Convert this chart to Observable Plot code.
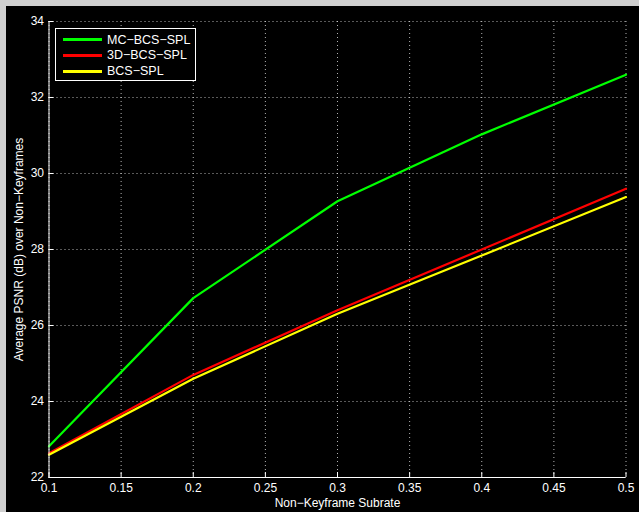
<!DOCTYPE html>
<html><head><meta charset="utf-8">
<script src="https://cdn.jsdelivr.net/npm/d3@7"></script>
<script src="https://cdn.jsdelivr.net/npm/@observablehq/plot@0.6"></script>
<style>
html,body{margin:0;padding:0;background:#d0d0d0;width:639px;height:512px;overflow:hidden;}
#wrap{position:absolute;left:6px;top:6px;width:633px;height:506px;background:#000;}
#legend{position:absolute;left:49px;top:22px;width:141px;height:53px;box-sizing:border-box;border:1px solid #fff;background:#000;font:12.5px "Liberation Sans",Arial,sans-serif;color:#fff;}
.row{position:absolute;left:0;height:0;}
.sw{position:absolute;left:7px;width:39px;height:3px;margin-top:-1.5px;}
.lb{position:absolute;left:51px;top:-8px;white-space:nowrap;line-height:16px;}
</style>
</head><body>
<div id="wrap"></div>
<script>
// ---- data ----
const subrate = [0.1, 0.2, 0.3, 0.4, 0.5];
const mcBcsSpl = [22.82, 26.72, 29.27, 31.03, 32.6];
const bcs3dSpl = [22.64, 24.7, 26.4, 28.0, 29.6];
const bcsSpl = [22.6, 24.6, 26.31, 27.84, 29.38];
const seriesNames = ["MC\u2212BCS\u2212SPL", "3D\u2212BCS\u2212SPL", "BCS\u2212SPL"];
const seriesColors = ["#00ff00", "#ff0000", "#ffff00"];
const xTicks = [0.1, 0.15, 0.2, 0.25, 0.3, 0.35, 0.4, 0.45, 0.5];
const xTickLabels = ["0.1", "0.15", "0.2", "0.25", "0.3", "0.35", "0.4", "0.45", "0.5"];
const yTicks = [22, 24, 26, 28, 30, 32, 34];
const yTickLabels = ["22", "24", "26", "28", "30", "32", "34"];
const xLabel = "Non\u2212Keyframe Subrate";
const yLabel = "Average PSNR (dB) over Non\u2212Keyframes";

const allSeries = [mcBcsSpl, bcs3dSpl, bcsSpl];
const table = [];
allSeries.forEach((vals, i) => vals.forEach((v, j) => table.push({series: seriesNames[i], x: subrate[j], y: v})));

const W = 633, H = 506, mL = 42.5, mR = 13.5, mT = 15, mB = 35;
const plotW = W - mL - mR, plotH = H - mT - mB;
const grid = {stroke: "#ffffff", strokeOpacity: 0.7, strokeDasharray: "1,3", strokeWidth: 1};

const chart = Plot.plot({
  width: W, height: H,
  marginLeft: mL, marginRight: mR, marginTop: mT, marginBottom: mB,
  style: {background: "#000", color: "#fff", fontFamily: "'Liberation Sans', Arial, sans-serif", fontSize: "12px"},
  x: {domain: [xTicks[0], xTicks[xTicks.length - 1]]},
  y: {domain: [yTicks[0], yTicks[yTicks.length - 1]]},
  color: {domain: seriesNames, range: seriesColors},
  marks: [
    Plot.gridX(xTicks, grid),
    Plot.gridY(yTicks, grid),
    Plot.line(table, {x: "x", y: "y", z: "series", stroke: "series", strokeWidth: 2.2}),
    Plot.ruleX([xTicks[0]], {stroke: "#fff", strokeWidth: 1}),
    Plot.ruleY([yTicks[0]], {stroke: "#fff", strokeWidth: 1}),
    Plot.tickY(yTicks, {y: d => d, stroke: "#fff", insetRight: plotW - 5}),
    Plot.tickX(xTicks, {x: d => d, stroke: "#fff", insetTop: plotH - 5}),
    Plot.axisY(yTicks, {tickSize: 0, tickPadding: 5, fontSize: 12,
      tickFormat: (d, i) => yTickLabels[i],
      label: yLabel, labelAnchor: "center", labelArrow: "none", labelOffset: 35}),
    Plot.axisX(xTicks, {tickSize: 0, tickPadding: 6, fontSize: 12,
      tickFormat: (d, i) => xTickLabels[i],
      label: xLabel, labelAnchor: "center", labelArrow: "none", labelOffset: 29})
  ]
});
const wrap = document.getElementById("wrap");
wrap.appendChild(chart);

const legend = document.createElement("div");
legend.id = "legend";
seriesNames.forEach((name, i) => {
  const row = document.createElement("div");
  row.className = "row";
  row.style.top = (10.5 + i * 15.75) + "px";
  const sw = document.createElement("div");
  sw.className = "sw"; sw.style.background = seriesColors[i];
  const lb = document.createElement("div");
  lb.className = "lb"; lb.textContent = name;
  row.appendChild(sw); row.appendChild(lb);
  legend.appendChild(row);
});
wrap.appendChild(legend);
</script>
</body></html>
